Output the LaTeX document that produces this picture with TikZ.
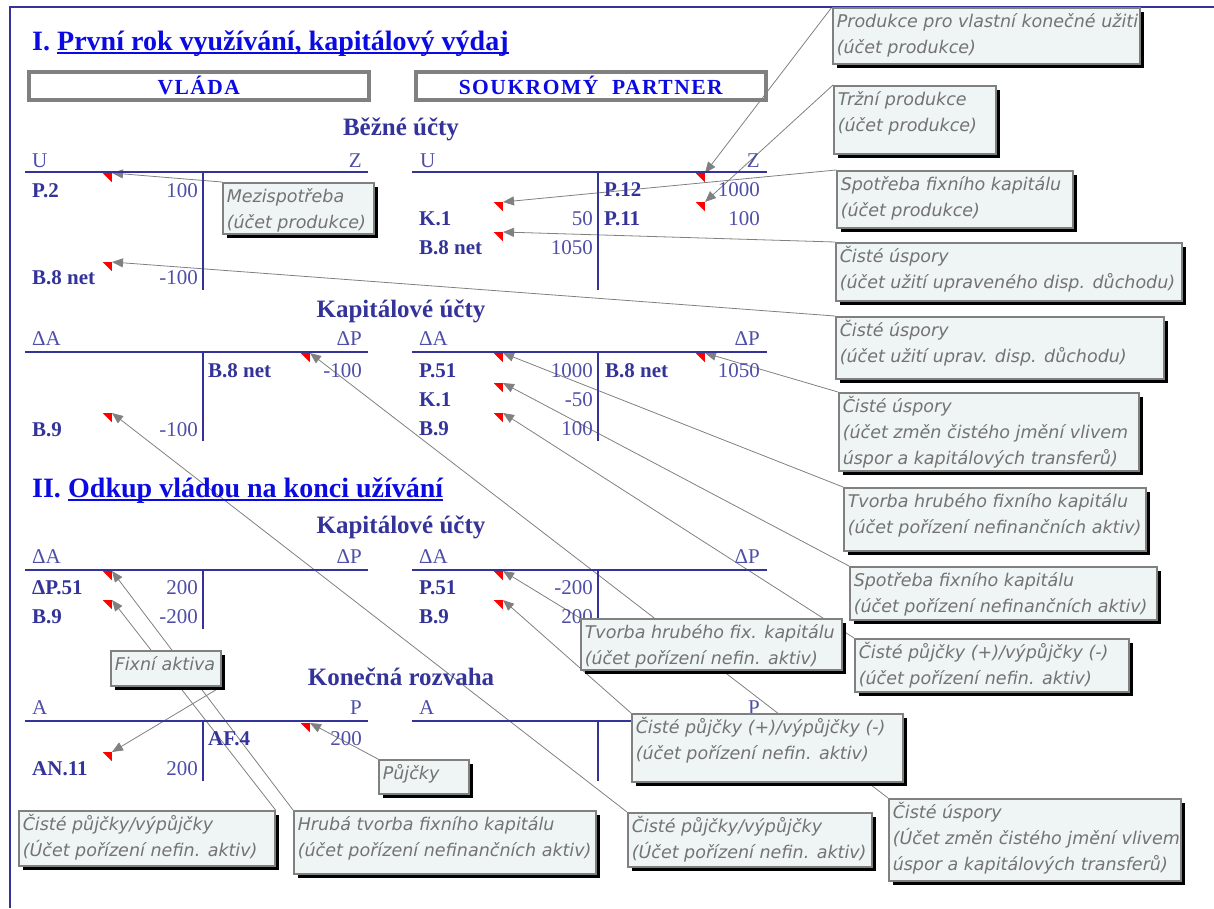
\documentclass[tikz,border=0pt]{standalone}
\usepackage{fontspec}
\setmainfont{Liberation Serif}
\newfontfamily\notefont{DejaVu Sans}
\usepackage{xcolor}
\usetikzlibrary{arrows.meta,shadows,calc}
\definecolor{navy}{RGB}{51,51,153}
\definecolor{numblue}{RGB}{78,78,168}
\definecolor{headblue}{RGB}{10,10,225}
\definecolor{boxgray}{RGB}{128,128,128}
\definecolor{notefill}{RGB}{239,244,244}
\definecolor{notetext}{RGB}{115,115,115}
\pgfdeclarelayer{background}
\pgfsetlayers{background,main}
\newcommand{\notebox}[3]{\parbox[t][#2][t]{#1}{\begin{tabular}[t]{@{}l@{}}#3\end{tabular}}}

\begin{document}
\begin{tikzpicture}[x=1pt,y=-1pt,
  acct/.style={draw=navy,line width=1.8pt},
  lab/.style={anchor=base west,inner sep=0pt,text=navy,font=\fontsize{21}{21}\selectfont\bfseries},
  val/.style={anchor=base east,inner sep=0pt,text=numblue,font=\fontsize{21}{21}\selectfont},
  hl/.style={anchor=base west,inner sep=0pt,text=numblue,font=\fontsize{21}{21}\selectfont},
  hr/.style={hl,anchor=base east},
  sect/.style={anchor=base,inner sep=0pt,text=navy,font=\fontsize{25}{25}\selectfont\bfseries},
  title/.style={anchor=base west,inner sep=0pt,text=headblue,font=\fontsize{28}{28}\selectfont\bfseries},
  party/.style={draw=boxgray,line width=3.5pt,anchor=north west,minimum height=28pt,inner sep=0pt,text=headblue,font=\fontsize{21.5}{21.5}\selectfont\bfseries\addfontfeature{LetterSpace=7}},
  flag/.style={anchor=north east,inner sep=0pt,minimum size=9pt,path picture={\fill[red] (path picture bounding box.north west) -- (path picture bounding box.north east) -- (path picture bounding box.south east) -- cycle;}},
  note/.style={anchor=north west,draw=boxgray,line width=1.5pt,fill=notefill,inner xsep=4pt,inner ysep=2pt,text=notetext,font=\notefont\itshape\fontsize{17.5}{26}\selectfont,drop shadow={shadow xshift=4pt,shadow yshift=-4pt,fill=black,opacity=1}},
  link/.style={draw=boxgray,line width=0.8pt,-{Triangle[length=11pt,width=9pt,fill=boxgray]}}]
\useasboundingbox (0,0) rectangle (1214,908);
% frame and headings
\draw[navy,line width=2pt] (10,908) -- (10,7) -- (1214,7);
\node[title] (t1n) at (32,50) {I.};
\node[title] (t1) at (57,50) {První rok využívání, kapitálový výdaj};
\draw[headblue,line width=1.6pt] ($(t1.base west)+(0,3)$) -- ($(t1.base east)+(0,3)$);
\node[party,minimum width=340pt] (vlada) at (27,70) {VLÁDA};
\node[party,minimum width=350pt] (partner) at (414,70) {SOUKROMÝ~~PARTNER};

% bezne ucty
\node[sect] (bezne) at (401,135) {Běžné účty};
\draw[acct] (25,172) -- (368,172); \draw[acct] (203,172) -- (203,290);
\node[hl] (vbU) at (32,167) {U};
\node[hr] (vbZ) at (362,167) {Z};
\node[lab] (vbP2) at (32,197) {P.2};
\node[val] (vbP2v) at (198,197) {100};
\node[lab] (vbB8) at (32,284) {B.8 net};
\node[val] (vbB8v) at (198,284) {-100};
\draw[acct] (412,172) -- (767,172); \draw[acct] (598,172) -- (598,290);
\node[hl] (sbU) at (420,167) {U};
\node[hr] (sbZ) at (760,167) {Z};
\node[lab] (sbP12) at (604,196) {P.12};
\node[val] (sbP12v) at (760,196) {1000};
\node[lab] (sbK1) at (419,225) {K.1};
\node[val] (sbK1v) at (593,225) {50};
\node[lab] (sbP11) at (604,225) {P.11};
\node[val] (sbP11v) at (760,225) {100};
\node[lab] (sbB8) at (419,254) {B.8 net};
\node[val] (sbB8v) at (593,254) {1050};

% kapitalove ucty I
\node[sect] (kap1) at (401,317) {Kapitálové účty};
\draw[acct] (25,352) -- (368,352); \draw[acct] (203,352) -- (203,441);
\node[hl] (vkA) at (32,345) {ΔA};
\node[hr] (vkP) at (362,345) {ΔP};
\node[lab] (vkB8) at (208,377) {B.8 net};
\node[val] (vkB8v) at (362,377) {-100};
\node[lab] (vkB9) at (32,436) {B.9};
\node[val] (vkB9v) at (198,436) {-100};
\draw[acct] (412,352) -- (767,352); \draw[acct] (598,352) -- (598,441);
\node[hl] (skA) at (419,345) {ΔA};
\node[hr] (skP) at (760,345) {ΔP};
\node[lab] (skP51) at (419,377) {P.51};
\node[val] (skP51v) at (593,377) {1000};
\node[lab] (skB8) at (605,377) {B.8 net};
\node[val] (skB8v) at (760,377) {1050};
\node[lab] (skK1) at (419,406) {K.1};
\node[val] (skK1v) at (593,406) {-50};
\node[lab] (skB9) at (419,435) {B.9};
\node[val] (skB9v) at (593,435) {100};

% cast II
\node[title] (t2n) at (32,497) {II.};
\node[title] (t2) at (68,497) {Odkup vládou na konci užívání};
\draw[headblue,line width=1.6pt] ($(t2.base west)+(0,3)$) -- ($(t2.base east)+(0,3)$);
\node[sect] (kap2) at (401,533) {Kapitálové účty};
\draw[acct] (25,570) -- (368,570); \draw[acct] (203,570) -- (203,629);
\node[hl] (vqA) at (32,563) {ΔA};
\node[hr] (vqP) at (362,563) {ΔP};
\node[lab] (vqP51) at (32,594) {ΔP.51};
\node[val] (vqP51v) at (198,594) {200};
\node[lab] (vqB9) at (32,623) {B.9};
\node[val] (vqB9v) at (198,623) {-200};
\draw[acct] (412,570) -- (767,570); \draw[acct] (598,570) -- (598,629);
\node[hl] (sqA) at (419,563) {ΔA};
\node[hr] (sqP) at (760,563) {ΔP};
\node[lab] (sqP51) at (419,594) {P.51};
\node[val] (sqP51v) at (593,594) {-200};
\node[lab] (sqB9) at (419,623) {B.9};
\node[val] (sqB9v) at (593,623) {200};

% konecna rozvaha
\node[sect] (rozv) at (401,685) {Konečná rozvaha};
\draw[acct] (25,721) -- (368,721); \draw[acct] (203,721) -- (203,781);
\node[hl] (vrA) at (32,714) {A};
\node[hr] (vrP) at (362,714) {P};
\node[lab] (vrAF4) at (208,745) {AF.4};
\node[val] (vrAF4v) at (362,745) {200};
\node[lab] (vrAN11) at (32,775) {AN.11};
\node[val] (vrAN11v) at (198,775) {200};
\draw[acct] (412,721) -- (767,721); \draw[acct] (598,721) -- (598,781);
\node[hl] (srA) at (419,714) {A};
\node[hr] (srP) at (760,714) {P};

% red comment flags
\node[flag] (fP2) at (112,173) {};
\node[flag] (fB8v) at (112,262) {};
\node[flag] (fP12) at (705,173) {};
\node[flag] (fP11) at (705,202) {};
\node[flag] (fK1) at (503,202) {};
\node[flag] (fB8s) at (503,232) {};
\node[flag] (fB8k) at (310,353) {};
\node[flag] (fB9k) at (112,413) {};
\node[flag] (fP51) at (503,353) {};
\node[flag] (fB8ks) at (705,353) {};
\node[flag] (fK1k) at (503,383) {};
\node[flag] (fB9ks) at (503,413) {};
\node[flag] (fDP51) at (112,571) {};
\node[flag] (fB9q) at (112,600) {};
\node[flag] (fAF4) at (310,723) {};
\node[flag] (fAN11) at (112,752) {};
\node[flag] (fP51q) at (503,571) {};
\node[flag] (fB9sq) at (503,600) {};

% comments
\node[note] (mezi) at (222,182) {\notebox{143pt}{47pt}{Mezispotřeba\\(účet produkce)}};
\node[note] (vlast) at (832,7) {\notebox{299pt}{52pt}{Produkce pro vlastní konečné užiti\\(účet produkce)}};
\node[note] (trzni) at (833,85) {\notebox{154pt}{64pt}{Tržní produkce\\(účet produkce)}};
\node[note] (spotr) at (836,170) {\notebox{228pt}{53pt}{Spotřeba fixního kapitálu\\(účet produkce)}};
\node[note] (usp) at (835,242) {\notebox{338pt}{54pt}{Čisté úspory\\(účet užití upraveného disp. důchodu)}};
\node[note] (uspv) at (835,316) {\notebox{320pt}{58pt}{Čisté úspory\\(účet užití uprav. disp. důchodu)}};
\node[note] (uspk) at (838,392) {\notebox{292pt}{74pt}{Čisté úspory\\(účet změn čistého jmění vlivem\\úspor a kapitálových transferů)}};
\node[note] (tvorba) at (843,487) {\notebox{294pt}{59pt}{Tvorba hrubého fixního kapitálu\\(účet pořízení nefinančních aktiv)}};
\node[note] (spotrk) at (849,566) {\notebox{299pt}{49pt}{Spotřeba fixního kapitálu\\(účet pořízení nefinančních aktiv)}};
\node[note] (pujc) at (854,638) {\notebox{266pt}{49pt}{Čisté půjčky (+)/výpůjčky (-)\\(účet pořízení nefin. aktiv)}};
\node[note] (tvorbaq) at (580,618) {\notebox{253pt}{47pt}{Tvorba hrubého fix. kapitálu\\(účet pořízení nefin. aktiv)}};
\node[note] (pujcq) at (631,713) {\notebox{263pt}{64pt}{Čisté půjčky (+)/výpůjčky (-)\\(účet pořízení nefin. aktiv)}};
\node[note] (uspvq) at (888,798) {\notebox{284pt}{78pt}{Čisté úspory\\(Účet změn čistého jmění vlivem\\úspor a kapitálových transferů)}};
\node[note] (pujcv) at (627,812) {\notebox{236pt}{50pt}{Čisté půjčky/výpůjčky\\(Účet pořízení nefin. aktiv)}};
\node[note] (pujcl) at (18,810) {\notebox{248pt}{51pt}{Čisté půjčky/výpůjčky\\(Účet pořízení nefin. aktiv)}};
\node[note] (hruba) at (293,810) {\notebox{294pt}{59pt}{Hrubá tvorba fixního kapitálu\\(účet pořízení nefinančních aktiv)}};
\node[note] (fixni) at (110,650) {\notebox{102pt}{31pt}{Fixní aktiva}};
\node[note] (pujcky) at (378,759) {\notebox{82pt}{30pt}{Půjčky}};

% connectors
\begin{pgfonlayer}{background}
\draw[link] (mezi.north west) -- (fP2.north east);
\draw[link] (uspv.north west) -- (fB8v.north east);
\draw[link] (vlast.north west) -- (fP12.north east);
\draw[link] (trzni.north west) -- (fP11.north east);
\draw[link] (spotr.north west) -- (fK1.north east);
\draw[link] (usp.north west) -- (fB8s.north east);
\draw[link] (uspvq.north west) -- (fB8k.north east);
\draw[link] (pujcv.north west) -- (fB9k.north east);
\draw[link] (tvorba.north west) -- (fP51.north east);
\draw[link] (uspk.north west) -- (fB8ks.north east);
\draw[link] (spotrk.north west) -- (fK1k.north east);
\draw[link] (pujc.north west) -- (fB9ks.north east);
\draw[link] (hruba.north west) -- (fDP51.north east);
\draw[link] (pujcl.north east) -- (fB9q.north east);
\draw[link] (pujcky.north west) -- (fAF4.north east);
\draw[link] (fixni.south east) -- (fAN11.north east);
\draw[link] (tvorbaq.north west) -- (fP51q.north east);
\draw[link] (pujcq.north west) -- (fB9sq.north east);
\end{pgfonlayer}
\end{tikzpicture}
\end{document}
